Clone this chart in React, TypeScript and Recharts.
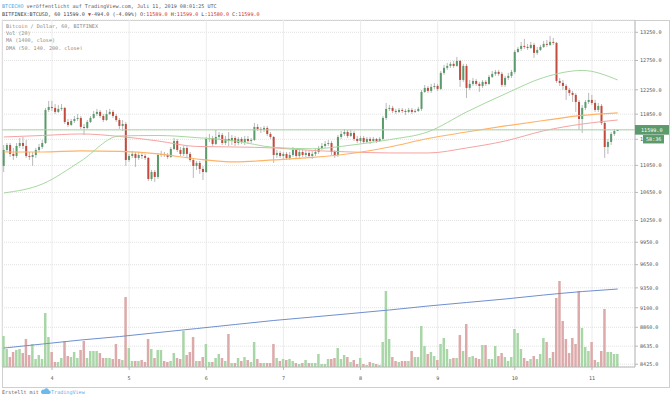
import { ComposedChart, Bar, Line, XAxis, YAxis, CartesianGrid, ReferenceLine, Cell } from 'recharts';

// BITFINEX:BTCUSD, 60 min candles, Jul 3 09:00 .. Jul 11 08:00 UTC
const FIRST_OPEN = 11042;
const CLOSE = [
  11285, 11362, 11224, 11193, 11347, 11393, 11347, 11193, 11178, 11208,
  11285, 11331, 11393, 11918, 11967, 11951, 11886, 11935, 11951, 11724,
  11677, 11740, 11772, 11789, 11645, 11629, 11724, 11789, 11853, 11886,
  11821, 11756, 11853, 11886, 11821, 11756, 11661, 11692, 11132, 11193,
  11224, 11163, 11208, 11193, 11163, 10847, 10951, 10877, 11208, 11224,
  11208, 11178, 11300, 11424, 11285, 11224, 11316, 11224, 11132, 11042,
  11087, 10996, 10951, 11456, 11471, 11378, 11487, 11518, 11393, 11456,
  11424, 11471, 11393, 11456, 11409, 11456, 11424, 11440, 11645, 11613,
  11597, 11629, 11534, 11487, 11208, 11239, 11193, 11224, 11163, 11208,
  11285, 11193, 11254, 11208, 11239, 11193, 11224, 11254, 11316, 11347,
  11378, 11393, 11254, 11208, 11487, 11534, 11565, 11503, 11550, 11456,
  11424, 11471, 11409, 11456, 11424, 11456, 11424, 11456, 11789, 11935,
  11951, 11902, 11886, 11918, 11902, 11886, 11918, 11886, 11902, 11935,
  12215, 12282, 12232, 12298, 12315, 12265, 12536, 12622, 12656, 12691,
  12656, 12743, 12416, 12656, 12282, 12349, 12399, 12349, 12315, 12383,
  12349, 12467, 12519, 12553, 12519, 12332, 12450, 12485, 12553, 12900,
  12953, 13006, 12988, 12970, 13024, 12883, 12935, 12988, 13042, 13024,
  13077, 13060, 12399, 12366, 12315, 12248, 12198, 12165, 12049, 11772,
  11951, 12049, 12082, 12033, 11918, 11984, 11708, 11331, 11409, 11534,
  11581, 11599,
];
const HIGH = [
  11362, 11393, 11393, 11316, 11393, 11471, 11487, 11440, 11254, 11254,
  11316, 11378, 11440, 11951, 12066, 12066, 12016, 12000, 12016, 11967,
  11772, 11772, 11821, 11853, 11821, 11692, 11756, 11821, 11902, 11935,
  11918, 11853, 11918, 11935, 11918, 11853, 11789, 11756, 11724, 11224,
  11270, 11254, 11254, 11239, 11224, 11178, 10981, 10981, 11239, 11270,
  11254, 11239, 11331, 11471, 11456, 11331, 11347, 11347, 11254, 11163,
  11117, 11117, 11042, 11487, 11534, 11503, 11597, 11565, 11550, 11503,
  11565, 11518, 11503, 11487, 11487, 11503, 11503, 11471, 11708, 11692,
  11645, 11661, 11661, 11565, 11503, 11285, 11270, 11254, 11254, 11254,
  11331, 11316, 11300, 11300, 11285, 11270, 11270, 11300, 11347, 11393,
  11424, 11440, 11424, 11285, 11518, 11581, 11613, 11597, 11597, 11581,
  11503, 11503, 11503, 11487, 11487, 11487, 11471, 11487, 11821, 12033,
  12000, 11984, 11935, 11951, 11951, 11935, 11951, 11951, 11935, 11967,
  12248, 12332, 12315, 12349, 12366, 12349, 12570, 12674, 12708, 12726,
  12743, 12812, 12760, 12691, 12691, 12416, 12450, 12433, 12383, 12416,
  12416, 12502, 12570, 12587, 12587, 12553, 12485, 12536, 12587, 12935,
  12988, 13077, 13131, 13042, 13077, 13060, 12988, 13024, 13095, 13113,
  13185, 13149, 13077, 12450, 12416, 12349, 12282, 12232, 12198, 12082,
  12000, 12082, 12198, 12165, 12082, 12033, 12016, 11740, 11456, 11565,
  11613, 11599,
];
const LOW = [
  10951, 11254, 11178, 11132, 11163, 11316, 11300, 11163, 11132, 11042,
  11163, 11254, 11300, 11378, 11886, 11902, 11853, 11869, 11902, 11692,
  11645, 11661, 11708, 11740, 11613, 11518, 11613, 11708, 11772, 11821,
  11789, 11724, 11740, 11837, 11789, 11724, 11613, 11581, 11042, 11102,
  11163, 11027, 11132, 11147, 11132, 10817, 10817, 10802, 10847, 11178,
  11178, 11147, 11163, 11285, 11254, 11193, 11193, 11163, 11102, 10862,
  10981, 10922, 10832, 10936, 11409, 11347, 11362, 11456, 11362, 11362,
  11347, 11362, 11347, 11362, 11378, 11362, 11378, 11393, 11424, 11581,
  11550, 11565, 11503, 11456, 11087, 11163, 11163, 11132, 11132, 11132,
  11178, 11163, 11163, 11178, 11178, 11163, 11147, 11193, 11224, 11285,
  11316, 11347, 11208, 11163, 11178, 11456, 11503, 11471, 11487, 11424,
  11393, 11393, 11378, 11393, 11378, 11409, 11393, 11409, 11440, 11756,
  11902, 11869, 11853, 11869, 11869, 11837, 11869, 11853, 11869, 11886,
  11902, 12198, 12198, 12198, 12265, 12232, 12248, 12502, 12587, 12622,
  12622, 12639, 12298, 12383, 12115, 12248, 12315, 12315, 12215, 12282,
  12315, 12332, 12450, 12485, 12485, 12298, 12298, 12416, 12450, 12519,
  12883, 12918, 12953, 12935, 12953, 12795, 12848, 12918, 12970, 12988,
  13006, 13024, 12366, 12315, 12248, 12082, 12148, 12049, 11886, 11597,
  11550, 11918, 12016, 12000, 11886, 11886, 11677, 11163, 11224, 11362,
  11503, 11580,
];
const VOLUME = [
  31, 18, 10, 15, 17, 18, 14, 28, 12, 23,
  8, 12, 8, 54, 30, 15, 5, 5, 9, 26,
  11, 10, 15, 9, 17, 26, 9, 16, 16, 16,
  14, 9, 9, 9, 8, 23, 8, 7, 70, 19,
  6, 6, 6, 7, 5, 28, 18, 9, 17, 17,
  6, 5, 6, 14, 9, 8, 36, 12, 15, 30,
  6, 6, 10, 23, 5, 5, 9, 13, 9, 6,
  33, 4, 4, 9, 6, 10, 7, 5, 25, 8,
  4, 4, 4, 4, 23, 9, 6, 8, 7, 8,
  6, 4, 3, 4, 7, 4, 4, 4, 13, 3,
  3, 8, 8, 9, 19, 8, 12, 10, 5, 7,
  3, 9, 3, 2, 5, 4, 3, 2, 25, 76,
  28, 10, 6, 5, 6, 6, 6, 16, 10, 10,
  41, 21, 13, 15, 11, 7, 23, 29, 18, 8,
  9, 9, 32, 16, 43, 10, 11, 9, 8, 22,
  22, 8, 8, 21, 11, 14, 10, 6, 10, 38,
  34, 18, 9, 6, 8, 11, 8, 13, 29, 25,
  9, 15, 69, 86, 46, 28, 14, 29, 23, 76,
  39, 20, 16, 25, 7, 5, 16, 58, 15, 15,
  13, 13,
];

// moving averages, read every 12 candles
const MA_INDEX = [0, 12, 24, 36, 48, 60, 72, 84, 96, 108, 120, 132, 144, 156, 168, 180, 191];
const MA1400 = [8613, 8660, 8708, 8749, 8797, 8845, 8894, 8943, 8985, 9028, 9072, 9121, 9165, 9209, 9259, 9303, 9335];
const DMA50 = [10642, 10773, 11116, 11503, 11510, 11477, 11424, 11325, 11303, 11359, 11445, 11568, 11886, 12182, 12458, 12578, 12416];
const DMA140 = [11254, 11254, 11270, 11262, 11224, 11147, 11102, 11132, 11170, 11231, 11331, 11463, 11565, 11661, 11748, 11829, 11869];
const DMA200 = [11487, 11510, 11534, 11495, 11424, 11339, 11331, 11316, 11277, 11254, 11239, 11239, 11316, 11424, 11584, 11692, 11756];

const DAY_TICKS = [15, 39, 63, 87, 111, 135, 159, 183];
const DAY_LABELS = ['4', '5', '6', '7', '8', '9', '10', '11'];
const PRICE_TICKS = [8425, 8635, 8860, 9100, 9350, 9650, 9950, 10250, 10650, 11050, 11450, 11850, 12250, 12750, 13250, 11599];
const LAST_PRICE = 11599;
const HIDDEN_TICK = 11450; // sits under the countdown box, only its first digit shows

const UP = '#5a9a6b';
const DOWN = '#c24b3e';
const WICK = '#a8a8a8';
const FONT = '"DejaVu Sans Mono", monospace';
const FS = 5.1;

const data = CLOSE.map((close, i) => {
  const open = i === 0 ? FIRST_OPEN : CLOSE[i - 1];
  const k = MA_INDEX.indexOf(i);
  return {
    i,
    open,
    close,
    high: HIGH[i],
    low: LOW[i],
    range: [LOW[i], HIGH[i]],
    volume: VOLUME[i],
    up: close >= open,
    ma1400: k >= 0 ? MA1400[k] : null,
    dma50: k >= 0 ? DMA50[k] : null,
    dma140: k >= 0 ? DMA140[k] : null,
    dma200: k >= 0 ? DMA200[k] : null,
  };
});

function Candle(props: any) {
  const { x, y, width, height, payload } = props;
  if (x == null || y == null) return null;
  const { open, close, high, low } = payload;
  const yTop = Math.min(y, y + height);
  const yBot = Math.max(y, y + height);
  const cx = x + width / 2;
  const lh = Math.log(high);
  const span = lh - Math.log(low) || 1;
  const yOf = (v: number) => yTop + ((yBot - yTop) * (lh - Math.log(v))) / span;
  const b1 = yOf(Math.max(open, close));
  const b2 = yOf(Math.min(open, close));
  return (
    <g>
      <line x1={cx} x2={cx} y1={yTop} y2={yBot} stroke={WICK} strokeWidth={0.8} />
      <rect x={cx - 1} y={b1} width={2} height={Math.max(b2 - b1, 0.8)} fill={close >= open ? UP : DOWN} />
    </g>
  );
}

function PriceTick(props: any) {
  const { x, y, payload } = props;
  const v = payload.value;
  if (v === LAST_PRICE) {
    return (
      <g>
        <rect x={x - 5} y={y - 4.8} width={34} height={9.6} fill={UP} />
        <text x={x + 1} y={y + 1.8} fill="#fff" fontSize={FS} fontFamily={FONT}>{v.toFixed(1)}</text>
        <rect x={x + 3} y={y + 5.2} width={21} height={8.4} fill={UP} />
        <text x={x + 6} y={y + 11.2} fill="#fff" fontSize={FS} fontFamily={FONT}>58:36</text>
      </g>
    );
  }
  if (v === HIDDEN_TICK) {
    return (
      <text x={x} y={y + 1.8} fill="#555" fontSize={FS} fontFamily={FONT}>1</text>
    );
  }
  return (
    <text x={x} y={y + 1.8} fill="#555" fontSize={FS} fontFamily={FONT}>{v.toFixed(1)}</text>
  );
}

function DayTick(props: any) {
  const { x, y, payload } = props;
  return (
    <text x={x} y={y + 8} textAnchor="middle" fill="#555" fontSize={FS} fontFamily={FONT}>
      {DAY_LABELS[DAY_TICKS.indexOf(payload.value)]}
    </text>
  );
}

const X_DOMAIN = [-0.56, 196.39];

export default function App() {
  return (
    <div style={{ position: 'absolute', left: 0, top: 0, width: 671, height: 397, background: '#fff', overflow: 'hidden' }}>
      <svg width={671} height={20} style={{ position: 'absolute', left: 0, top: 0 }}>
        <text x={2} y={7.8} fontSize={FS} fontFamily={FONT} fill="#555">
          <tspan fill="#4fa3e0">BTCECHO</tspan>
          <tspan> veröffentlicht auf TradingView.com, Juli 11, 2019 08:01:25 UTC</tspan>
        </text>
        <text x={2} y={15.8} fontSize={FS} fontFamily={FONT} fill="#444">
          <tspan>BITFINEX:BTCUSD, 60 11599.0 </tspan>
          <tspan fill="#d0342c">▼</tspan>
          <tspan>-494.0 (-4.09%) O:</tspan>
          <tspan fill="#d0342c">11589.0</tspan>
          <tspan> H:</tspan>
          <tspan fill="#d0342c">11599.0</tspan>
          <tspan> L:</tspan>
          <tspan fill="#d0342c">11580.0</tspan>
          <tspan> C:</tspan>
          <tspan fill="#d0342c">11599.0</tspan>
        </text>
      </svg>
      <div style={{ position: 'absolute', left: 2, top: 20, width: 666, height: 366, border: '1px solid #cfcfcf' }} />
      <div style={{ position: 'absolute', left: 0, top: 0 }}>
        <ComposedChart width={671} height={388} data={data} margin={{ top: 20, right: 0, bottom: 0, left: 2 }}>
          <CartesianGrid horizontal={false} stroke="#ececec" />
          <CartesianGrid vertical={false} stroke="#e2e2e2" strokeDasharray="1 1" />
          <XAxis
            type="number"
            dataKey="i"
            domain={X_DOMAIN}
            allowDataOverflow
            ticks={DAY_TICKS}
            interval={0}
            height={21}
            tickSize={3}
            tick={<DayTick />}
            stroke="#b8b8b8"
          />
          <XAxis xAxisId="v" type="number" dataKey="i" domain={X_DOMAIN} allowDataOverflow hide />
          <YAxis
            orientation="right"
            scale="log"
            domain={[8393, 13474]}
            allowDataOverflow
            ticks={PRICE_TICKS}
            interval={0}
            width={36}
            tickSize={3}
            tick={<PriceTick />}
            stroke="#b8b8b8"
          />
          <YAxis yAxisId="vol" domain={[0, 347]} allowDataOverflow hide />
          <Bar xAxisId="v" yAxisId="vol" dataKey="volume" barSize={2.5} isAnimationActive={false}>
            {data.map((d) => (
              <Cell key={d.i} fill={d.up ? '#a9d6a6' : '#dcaaaa'} />
            ))}
          </Bar>
          <Line dataKey="ma1400" type="monotone" connectNulls dot={false} stroke="#6f8fd0" strokeWidth={1} isAnimationActive={false} />
          <Line dataKey="dma200" type="monotone" connectNulls dot={false} stroke="#f6a3a3" strokeWidth={1} isAnimationActive={false} />
          <Line dataKey="dma140" type="monotone" connectNulls dot={false} stroke="#ffb366" strokeWidth={1.2} isAnimationActive={false} />
          <Line dataKey="dma50" type="monotone" connectNulls dot={false} stroke="#a6d9a0" strokeWidth={1} isAnimationActive={false} />
          <ReferenceLine y={LAST_PRICE} stroke="#a8d5a8" strokeWidth={1} />
          <Bar dataKey="range" barSize={3} shape={<Candle />} isAnimationActive={false} />
        </ComposedChart>
      </div>
      <svg width={120} height={30} style={{ position: 'absolute', left: 0, top: 20 }}>
        <g fontSize={FS} fontFamily={FONT} fill="#8a8a8a">
          <text x={6} y={7.7}>Bitcoin / Dollar, 60, BITFINEX</text>
          <text x={6} y={15}>Vol (20)</text>
          <text x={6} y={22.4}>MA (1400, close)</text>
          <text x={6} y={30}>DMA (50, 140, 200, close)</text>
        </g>
      </svg>
      <svg width={120} height={9} style={{ position: 'absolute', left: 0, top: 388 }}>
        <text x={2} y={5.5} fontSize={FS} fontFamily={FONT} fill="#666">Erstellt mit</text>
        <path d="M42.5 6 h6.5 a1.8 1.8 0 0 0 0 -3.6 a2.6 2.6 0 0 0 -5 -0.6 a1.7 1.7 0 0 0 -1.5 4.2 z" fill="#6fb8ea" />
        <text x={51} y={5.5} fontSize={FS} fontFamily={FONT} fill="#5aaee6">TradingView</text>
      </svg>
    </div>
  );
}
